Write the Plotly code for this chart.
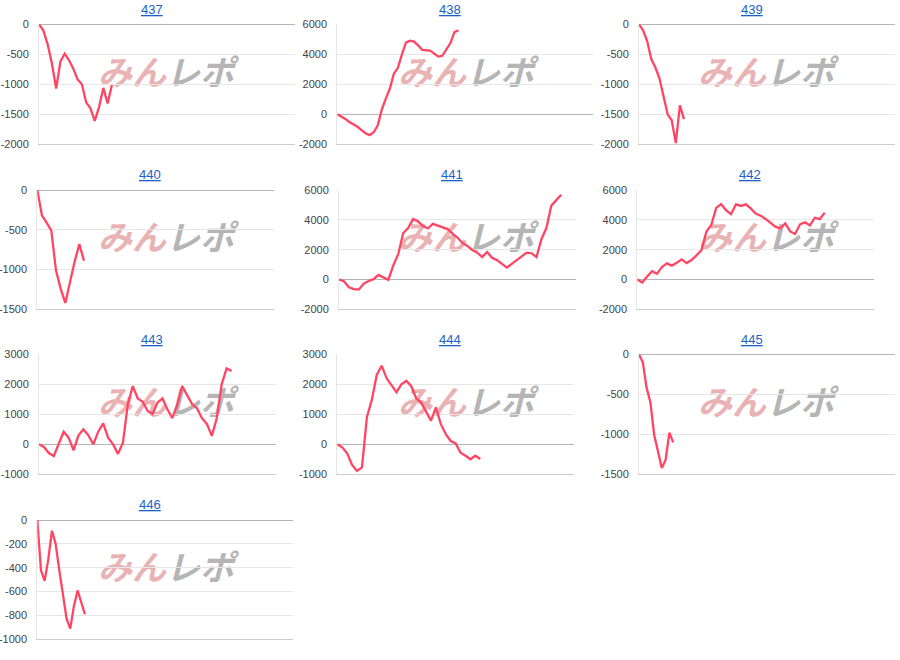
import plotly.graph_objects as go

W, H = 900, 660

titles = ["437", "438", "439", "440", "441", "442", "443", "444", "445", "446"]

v437 = [0, -100, -330, -650, -1070, -620, -490, -600, -740, -920, -1000, -1300,
        -1400, -1610, -1380, -1060, -1320, -1010]
v438 = [0, -140, -310, -520, -650, -830, -1050, -1270, -1390, -1200, -750, 290,
        1050, 1700, 2700, 3100, 4000, 4780, 4910, 4850, 4600, 4300, 4270, 4250,
        4050, 3850, 3900, 4300, 4750, 5480, 5600]
v439 = [0, -100, -280, -580, -720, -900, -1200, -1500, -1600, -1980, -1350, -1580]
v440 = [0, -320, -410, -510, -1010, -1240, -1420, -1150, -900, -680, -890]
v441 = [0, -120, -520, -650, -680, -280, -100, 20, 310, 150, -20, 950, 1700, 3100,
        3450, 4050, 3900, 3580, 3420, 3730, 3620, 3500, 3380, 3080, 2800, 2450,
        2250, 1980, 1800, 1500, 1850, 1450, 1300, 1050, 800, 1050, 1300, 1550,
        1800, 1760, 1500, 2700, 3450, 4950, 5300, 5680]
v442 = [0, -200, 200, 560, 380, 840, 1080, 930, 1120, 1350, 1100, 1300, 1620,
        1950, 3200, 3650, 4800, 5050, 4650, 4380, 5040, 4930, 5040, 4770, 4420,
        4280, 4060, 3780, 3540, 3420, 3760, 3220, 3050, 3700, 3830, 3620, 4140,
        4050, 4480]
v443 = [0, -90, -290, -390, 20, 420, 220, -200, 300, 500, 300, 0, 420, 700, 220,
        0, -320, 50, 1350, 1940, 1530, 1420, 1110, 1010, 1390, 1530, 1170, 870,
        1310, 1940, 1640, 1340, 1200, 870, 680, 280, 870, 2000, 2530, 2440]
v444 = [0, -100, -300, -690, -890, -770, 900, 1480, 2310, 2620, 2200, 1980, 1740,
        2000, 2120, 1940, 1530, 1390, 1090, 790, 1230, 670, 340, 110, 30, -280,
        -380, -500, -380, -490]
v445 = [0, -100, -420, -600, -1010, -1230, -1420, -1320, -980, -1100]
v446 = [0, -420, -510, -330, -90, -200, -420, -640, -830, -910, -720, -590, -690,
        -790]

series = [v437, v438, v439, v440, v441, v442, v443, v444, v445, v446]

# y axis ranges and tick steps
y_ranges = [(-2000, 0), (-2000, 6000), (-2000, 0), (-1500, 0), (-2000, 6000),
            (-2000, 6000), (-1000, 3000), (-1000, 3000), (-1500, 0), (-1000, 0)]
y_steps = [500, 2000, 500, 500, 2000, 2000, 1000, 1000, 500, 200]
# x extents (number of steps spanned by each plot width)
x_extent = [59.7, 63.3, 62.6, 50.7, 48, 48, 48, 48, 67.4, 69.8]

# plot areas in pixels: left, right, top, bottom
boxes = [
    (39, 295, 24.3, 144.3), (337.3, 593, 24.3, 144.3), (639, 895, 24.3, 144.3),
    (37.3, 274, 190, 309.3), (339, 576, 190, 309.3), (637.3, 874, 190, 309.3),
    (39, 276, 354.3, 474.3), (337.3, 574, 354.3, 474.3), (639, 895, 354.3, 474.3),
    (37.3, 293, 520, 639.3),
]
title_x = [152, 450, 752, 150, 452, 750, 152, 450, 752, 150]

LINE = "#ff4563"
GRID = "#e6e6e6"
TICKC = "#444444"

fig = go.Figure()

layout = dict(
    template="none",
    width=W, height=H, margin=dict(l=0, r=0, t=0, b=0, pad=0, autoexpand=False),
    paper_bgcolor="white", plot_bgcolor="rgba(0,0,0,0)", showlegend=False,
    xaxis=dict(domain=[0, 1], range=[0, W], visible=False, fixedrange=True),
    yaxis=dict(domain=[0, 1], range=[H, 0], visible=False, fixedrange=True),
    annotations=[], shapes=[],
)

# watermark (behind the lines), on a full-page background axis pair
wm_x, wm_y = [], []
for i in range(len(series)):
    row, col = divmod(i, 3)
    wm_x.append(col * 300 + 166)
    wm_y.append(row * 165 + 76)
wm_text = ("<span style='color:#e9b3b3'>みん</span>"
           "<span style='color:#b5b5b5'>レポ</span>")
fig.add_trace(go.Scatter(
    x=wm_x, y=wm_y, mode="text", text=[wm_text] * len(wm_x),
    textposition="middle center", hoverinfo="skip",
    textfont=dict(family="Noto Sans CJK JP", size=34, weight="bold",
                  style="italic"),
    xaxis="x", yaxis="y", cliponaxis=False,
))

for i, vals in enumerate(series):
    n = i + 2
    xa, ya = f"xaxis{n}", f"yaxis{n}"
    l, r, t, b = boxes[i]
    lo, hi = y_ranges[i]
    step = y_steps[i]
    ticks = list(range(lo, hi + 1, step))
    layout[xa] = dict(
        domain=[l / W, r / W], range=[0, x_extent[i]], anchor=f"y{n}",
        showgrid=False, zeroline=False, showticklabels=False, ticks="",
        showline=True, linecolor="#cccccc", linewidth=1, fixedrange=True,
        automargin=False,
    )
    layout[ya] = dict(
        domain=[1 - b / H, 1 - t / H], range=[lo, hi], anchor=f"x{n}",
        tickmode="array", tickvals=ticks, ticktext=[str(v) for v in ticks],
        showgrid=True, gridcolor=GRID, gridwidth=1,
        zeroline=True, zerolinecolor="#b5b5b5", zerolinewidth=1,
        showline=True, linecolor="#e6e6e6", linewidth=1, ticks="",
        ticklabelstandoff=7, automargin=False,
        tickfont=dict(family="Liberation Sans, Arial, sans-serif", size=11,
                      color=TICKC),
        fixedrange=True,
    )
    fig.add_trace(go.Scatter(
        x=list(range(len(vals))), y=vals, mode="lines",
        line=dict(color=LINE, width=2.3), xaxis=f"x{n}", yaxis=f"y{n}",
        hoverinfo="y",
    ))
    row = i // 3
    layout["annotations"].append(dict(
        x=title_x[i] / W, y=1 - (row * 165 + 9.5) / H, xref="paper", yref="paper",
        text=f"<u>{titles[i]}</u>", showarrow=False, xanchor="center",
        yanchor="middle",
        font=dict(family="Liberation Sans, Arial, sans-serif", size=13,
                  color="#1a62c8"),
    ))

fig.update_layout(**layout)
fig.write_html(
    "out.html",
    config={"responsive": False, "displayModeBar": False},
    post_script="document.body.style.margin='0';"
                "document.body.style.overflow='hidden';",
)
